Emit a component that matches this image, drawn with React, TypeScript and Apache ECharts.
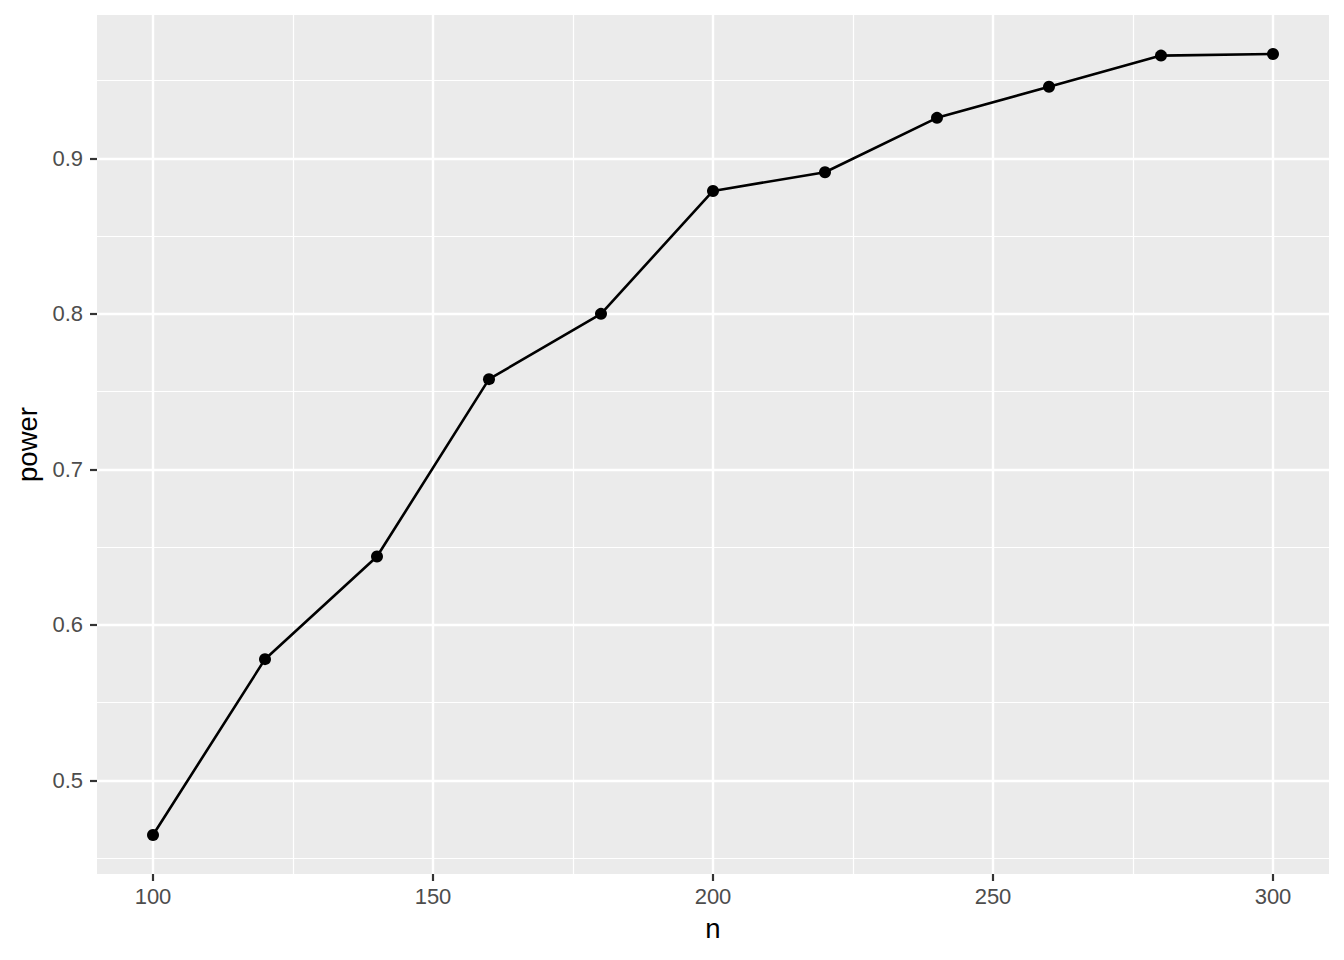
import React, { useEffect, useRef } from "react";
import * as echarts from "echarts";

const nValues = [100, 120, 140, 160, 180, 200, 220, 240, 260, 280, 300];
const powerValues = [0.465, 0.578, 0.644, 0.758, 0.8, 0.879, 0.891, 0.926, 0.946, 0.966, 0.967];
const xMajorTicks = [100, 150, 200, 250, 300];
const xMinorTicks = [125, 175, 225, 275];
const yMajorTicks = [0.5, 0.6, 0.7, 0.8, 0.9];
const yMinorTicks = [0.45, 0.55, 0.65, 0.75, 0.85, 0.95];

const FONT = "Liberation Sans, Arial, Helvetica, sans-serif";

export default function App() {
  const ref = useRef<HTMLDivElement>(null);
  useEffect(() => {
    if (!ref.current) return;
    const chart = echarts.init(ref.current, undefined, { renderer: "svg" });
    const major = { color: "#ffffff", width: 2.4, type: "solid" };
    const minor = { color: "#ffffff", width: 1.2, type: "solid" };
    const gridLines = [
      ...xMajorTicks.map((v) => ({ xAxis: v, lineStyle: major })),
      ...xMinorTicks.map((v) => ({ xAxis: v, lineStyle: minor })),
      ...yMajorTicks.map((v) => ({ yAxis: v, lineStyle: major })),
      ...yMinorTicks.map((v) => ({ yAxis: v, lineStyle: minor })),
    ];
    chart.setOption({
      animation: false,
      backgroundColor: "#ffffff",
      textStyle: { fontFamily: FONT },
      grid: {
        left: 97,
        right: 15,
        top: 15,
        bottom: 86,
        show: true,
        backgroundColor: "#EBEBEB",
        borderWidth: 0,
        containLabel: false,
        outerBoundsMode: "none",
      },
      xAxis: {
        type: "value",
        min: 90,
        max: 310,
        name: "n",
        nameLocation: "middle",
        nameGap: 40,
        nameTextStyle: { color: "#000000", fontSize: 27.5, fontFamily: FONT },
        axisLine: { show: false },
        axisTick: {
          show: true,
          length: 7,
          lineStyle: { color: "#333333", width: 2.2 },
          customValues: xMajorTicks,
        },
        axisLabel: {
          color: "#4D4D4D",
          fontSize: 22,
          fontFamily: FONT,
          margin: 11,
          customValues: xMajorTicks,
        },
        splitLine: { show: false },
      },
      yAxis: {
        type: "value",
        min: 0.4399,
        max: 0.9921,
        name: "power",
        nameLocation: "middle",
        nameRotate: 90,
        nameGap: 54,
        nameTextStyle: { color: "#000000", fontSize: 27.5, fontFamily: FONT },
        axisLine: { show: false },
        axisTick: {
          show: true,
          length: 7,
          lineStyle: { color: "#333333", width: 2.2 },
          customValues: yMajorTicks,
        },
        axisLabel: {
          color: "#4D4D4D",
          fontSize: 22,
          fontFamily: FONT,
          margin: 14,
          customValues: yMajorTicks,
          formatter: (v: number) => v.toFixed(1),
        },
        splitLine: { show: false },
      },
      series: [
        {
          type: "line",
          data: [],
          silent: true,
          markLine: {
            silent: true,
            z: 1,
            symbol: ["none", "none"],
            label: { show: false },
            emphasis: { disabled: true },
            data: gridLines,
          },
        },
        {
          type: "line",
          z: 3,
          data: nValues.map((n, i) => [n, powerValues[i]]),
          symbol: "circle",
          symbolSize: 12,
          showSymbol: true,
          itemStyle: { color: "#000000" },
          lineStyle: { color: "#000000", width: 2.6 },
        },
      ],
    });
    return () => chart.dispose();
  }, []);
  return (
    <div
      ref={ref}
      style={{ position: "fixed", left: 0, top: 0, width: 1344, height: 960 }}
    />
  );
}
